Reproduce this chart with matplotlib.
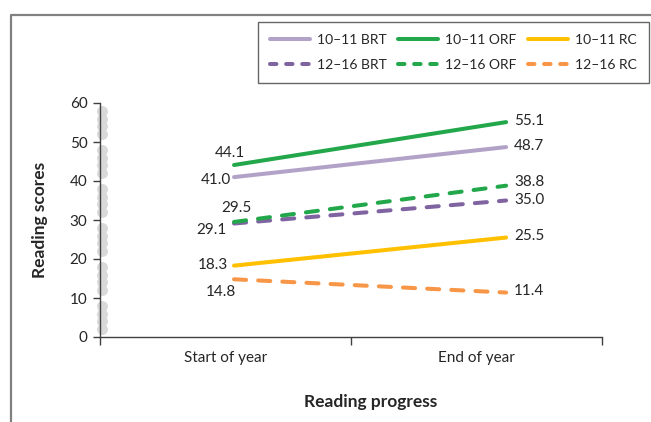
import matplotlib
matplotlib.use("Agg")
import matplotlib.pyplot as plt
from matplotlib.lines import Line2D

plt.rcParams['font.family'] = ['Lato', 'DejaVu Sans']

# ---- data ----
periods = ["Start of year", "End of year"]
series_names = ["10–11 BRT", "10–11 ORF", "10–11 RC",
                "12–16 BRT", "12–16 ORF", "12–16 RC"]
brt_10_11 = [41.0, 48.7]
orf_10_11 = [44.1, 55.1]
rc_10_11 = [18.3, 25.5]
brt_12_16 = [29.1, 35.0]
orf_12_16 = [29.5, 38.8]
rc_12_16 = [14.8, 11.4]
y_ticks = [0, 10, 20, 30, 40, 50, 60]

values = [brt_10_11, orf_10_11, rc_10_11, brt_12_16, orf_12_16, rc_12_16]

# ---- styling ----
colors = ["#B3A2C7", "#22A84A", "#FFC000", "#8064A2", "#22A84A", "#F79646"]
styles = ["-", "-", "-", "--", "--", "--"]
zorders = [3, 4, 3, 3, 4, 3]
# label offsets in pixels (start label: right aligned; end label: left aligned)
start_off = [(-3, -3), (11, 12), (-6, 1), (-7, -6), (18, 14), (2, -13)]
end_off = [(8, 1), (8, 1), (8, 2), (8, 0), (8, 4), (8, 2)]
point_x = [0.534, 1.618]   # where the lines sit on the 0..2 category axis
label_x = [0.5, 1.5]       # category label centres

text_color = "#262626"

fig = plt.figure(figsize=(6.51, 4.22), dpi=100)
ax = fig.add_axes([100 / 651, 85 / 422, 502 / 651, 234 / 422])

handles = []
for vals, name, c, ls, z, so, eo in zip(values, series_names, colors, styles,
                                         zorders, start_off, end_off):
    ln, = ax.plot(point_x, vals, color=c, linestyle=ls, lw=2.9, zorder=z,
                  solid_capstyle='round', dash_capstyle='round',
                  dashes=(3.0, 3.0) if ls == "--" else (None, None),
                  clip_on=False)
    handles.append(ln)
    ax.annotate(f"{vals[0]:.1f}", (point_x[0], vals[0]), xytext=so,
                textcoords='offset pixels', ha='right', va='center',
                fontsize=11, color=text_color)
    ax.annotate(f"{vals[1]:.1f}", (point_x[1], vals[1]), xytext=eo,
                textcoords='offset pixels', ha='left', va='center',
                fontsize=11, color=text_color)

ax.set_xlim(0, 2)
ax.set_ylim(0, 60)
ax.set_yticks(y_ticks)
ax.set_xticks([0, 1, 2])
ax.set_xticklabels([])
for xl, lab in zip(label_x, periods):
    ax.text(xl, -5.3, lab, ha='center', va='center', fontsize=11,
            color=text_color)

for s in ["top", "right"]:
    ax.spines[s].set_visible(False)
for s in ["left", "bottom"]:
    ax.spines[s].set_color("#404040")
    ax.spines[s].set_linewidth(1.0)
ax.tick_params(axis='y', length=5, width=1.0, color="#404040", pad=4,
               labelsize=11, labelcolor=text_color)
ax.tick_params(axis='x', length=6, width=1.0, color="#404040")

# grey beaded strip along the value axis
for base in range(0, 60, 10):
    ys = [base + d for d in (2, 4, 6, 8)]
    ax.scatter([0.008] * len(ys), ys, s=62, color="#D9D9D9", zorder=1,
               clip_on=False, linewidths=0)

ax.set_ylabel("Reading scores", fontsize=12.5, fontweight='bold',
              color=text_color, labelpad=16)
fig.text(371 / 651, 1 - 402 / 422, "Reading progress", ha='center',
         va='center', fontsize=12.5, fontweight='bold', color=text_color)

# legend proxies: same colours, shorter dashes for the short handles
proxies = [Line2D([], [], color=c, lw=2.9, linestyle=ls,
                  solid_capstyle='round', dash_capstyle='round',
                  dashes=(1.6, 2.4) if ls == "--" else (None, None))
           for c, ls in zip(colors, styles)]

# legend in three columns, two rows
order = [0, 3, 1, 4, 2, 5]
leg = fig.legend([proxies[i] for i in order], [series_names[i] for i in order],
                 ncol=3, loc='upper left',
                 bbox_to_anchor=(258 / 651, 1 - 22 / 422),
                 frameon=True, fancybox=False, fontsize=10,
                 handlelength=2.9, handletextpad=0.5, columnspacing=0.8,
                 labelspacing=0.95, borderpad=0.85, borderaxespad=0,
                 labelcolor=text_color)
leg.get_frame().set_edgecolor("#404040")
leg.get_frame().set_linewidth(1.0)

# outer frame (left and top edges)
fig.add_artist(Line2D([11 / 651, 11 / 651, 1.0], [0.0, 1 - 15 / 422, 1 - 15 / 422],
                      transform=fig.transFigure, color="#808080", lw=1.6))

fig.savefig("out.png", dpi=100)
